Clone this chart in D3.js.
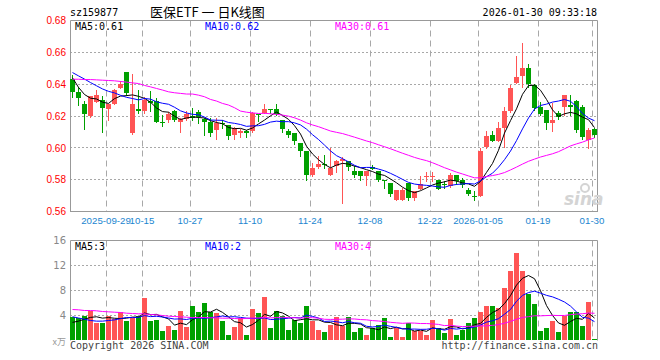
<!DOCTYPE html>
<html>
<head>
<meta charset="utf-8">
<script src="https://cdn.jsdelivr.net/npm/d3@7"></script>
<style>
  body { margin: 0; background: #fff; }
  svg { display: block; }
</style>
</head>
<body>
<svg id="chart"></svg>
<script>
/// data ///
const dates = [
  "2025-09-19","2025-09-22","2025-09-23","2025-09-24","2025-09-25","2025-09-26","2025-09-29","2025-09-30",
  "2025-10-09","2025-10-10","2025-10-13","2025-10-14","2025-10-15","2025-10-16","2025-10-17","2025-10-20",
  "2025-10-21","2025-10-22","2025-10-23","2025-10-24","2025-10-27","2025-10-28","2025-10-29","2025-10-30",
  "2025-10-31","2025-11-03","2025-11-04","2025-11-05","2025-11-06","2025-11-07","2025-11-10","2025-11-11",
  "2025-11-12","2025-11-13","2025-11-14","2025-11-17","2025-11-18","2025-11-19","2025-11-20","2025-11-21",
  "2025-11-24","2025-11-25","2025-11-26","2025-11-27","2025-11-28","2025-12-01","2025-12-02","2025-12-03",
  "2025-12-04","2025-12-05","2025-12-08","2025-12-09","2025-12-10","2025-12-11","2025-12-12","2025-12-15",
  "2025-12-16","2025-12-17","2025-12-18","2025-12-19","2025-12-22","2025-12-23","2025-12-24","2025-12-25",
  "2025-12-26","2025-12-29","2025-12-30","2025-12-31","2026-01-05","2026-01-06","2026-01-07","2026-01-08",
  "2026-01-09","2026-01-12","2026-01-13","2026-01-14","2026-01-15","2026-01-16","2026-01-19","2026-01-20",
  "2026-01-21","2026-01-22","2026-01-23","2026-01-26","2026-01-27","2026-01-28","2026-01-29","2026-01-30"
];

const open = [
  0.6430,0.6352,0.6275,0.6200,0.6290,0.6300,0.6244,0.6275,0.6377,0.6475,0.6092,0.6244,0.6230,0.6294,0.6294,0.6165,
  0.6175,0.6230,0.6165,0.6180,0.6200,0.6227,0.6180,0.6160,0.6113,0.6155,0.6144,0.6080,0.6096,0.6106,0.6108,0.6212,
  0.6217,0.6242,0.6244,0.6175,0.6106,0.6092,0.6029,0.5981,0.5831,0.5879,0.5898,0.5831,0.5883,0.5915,0.5915,0.5852,
  0.5852,0.5825,0.5877,0.5852,0.5800,0.5780,0.5675,0.5675,0.5780,0.5685,0.5742,0.5817,0.5823,0.5796,0.5773,0.5758,
  0.5831,0.5796,0.5733,0.5700,0.5700,0.6008,0.6081,0.6046,0.6123,0.6233,0.6408,0.6450,0.6502,0.6394,0.6258,0.6238,
  0.6158,0.6217,0.6258,0.6267,0.6294,0.6258,0.6050,0.6117
];
const high = [
  0.6456,0.6383,0.6294,0.6327,0.6363,0.6325,0.6275,0.6370,0.6420,0.6475,0.6467,0.6363,0.6320,0.6360,0.6310,0.6206,
  0.6227,0.6240,0.6190,0.6230,0.6248,0.6237,0.6190,0.6185,0.6185,0.6175,0.6144,0.6133,0.6117,0.6112,0.6227,0.6215,
  0.6275,0.6244,0.6275,0.6175,0.6117,0.6092,0.6030,0.5981,0.5904,0.5946,0.5956,0.5998,0.5925,0.5940,0.5915,0.5883,
  0.5855,0.5852,0.5894,0.5852,0.5800,0.5780,0.5733,0.5748,0.5780,0.5727,0.5820,0.5848,0.5848,0.5796,0.5790,0.5842,
  0.5831,0.5810,0.5748,0.5727,0.5998,0.6108,0.6108,0.6165,0.6258,0.6394,0.6577,0.6658,0.6525,0.6404,0.6290,0.6238,
  0.6280,0.6230,0.6331,0.6331,0.6298,0.6269,0.6123,0.6123
];
const low = [
  0.6321,0.6269,0.6119,0.6195,0.6290,0.6102,0.6175,0.6275,0.6377,0.6330,0.6087,0.6220,0.6220,0.6230,0.6160,0.6137,
  0.6165,0.6170,0.6102,0.6175,0.6175,0.6154,0.6080,0.6075,0.6058,0.6123,0.6054,0.6056,0.6071,0.6071,0.6102,0.6170,
  0.6217,0.6217,0.6206,0.6102,0.6071,0.6025,0.5950,0.5796,0.5821,0.5873,0.5873,0.5831,0.5846,0.5654,0.5863,0.5817,
  0.5800,0.5769,0.5867,0.5790,0.5748,0.5696,0.5670,0.5670,0.5670,0.5675,0.5742,0.5790,0.5790,0.5742,0.5748,0.5752,
  0.5775,0.5754,0.5706,0.5670,0.5696,0.6002,0.6040,0.6040,0.6008,0.6227,0.6408,0.6383,0.6383,0.6237,0.6206,0.6117,
  0.6108,0.6180,0.6206,0.6206,0.6102,0.6054,0.6002,0.6071
];
const close = [
  0.6352,0.6315,0.6212,0.6325,0.6331,0.6252,0.6275,0.6363,0.6404,0.6346,0.6275,0.6230,0.6300,0.6283,0.6165,0.6160,
  0.6212,0.6175,0.6180,0.6212,0.6190,0.6196,0.6160,0.6096,0.6154,0.6152,0.6077,0.6123,0.6106,0.6096,0.6221,0.6205,
  0.6244,0.6240,0.6213,0.6117,0.6081,0.6046,0.5977,0.5831,0.5873,0.5900,0.5896,0.5873,0.5915,0.5929,0.5877,0.5831,
  0.5825,0.5852,0.5870,0.5796,0.5790,0.5713,0.5733,0.5733,0.5685,0.5727,0.5775,0.5821,0.5825,0.5744,0.5767,0.5831,
  0.5790,0.5765,0.5713,0.5692,0.5983,0.6075,0.6046,0.6127,0.6233,0.6373,0.6446,0.6502,0.6400,0.6248,0.6213,0.6158,
  0.6175,0.6192,0.6331,0.6258,0.6113,0.6070,0.6113,0.6081
];
// volume, x10k
const volume = [
  3.84,3.57,4.00,4.80,2.77,2.77,4.00,3.47,4.53,3.09,3.63,4.00,6.77,3.20,3.31,1.60,
  2.40,1.76,4.80,2.13,5.60,4.53,5.97,4.53,4.37,3.09,0.96,2.13,3.63,0.96,5.12,4.37,
  6.93,1.97,4.80,4.00,1.76,3.31,2.77,5.60,3.09,1.76,1.44,2.53,3.73,2.40,3.73,1.33,
  1.97,0.80,1.97,2.53,3.57,0.64,1.97,0.53,2.85,1.49,1.49,0.96,3.36,2.03,1.17,3.52,
  0.80,1.76,2.88,3.63,4.64,5.60,5.60,5.28,8.37,11.09,13.97,11.09,7.47,5.81,1.49,2.08,
  3.20,1.44,3.95,4.53,4.64,2.40,6.24,0.16
];

// moving-average values for days whose history lies left of the window
const ma5Lead = [0.6440,0.6380,0.6335,0.6312];
const ma10Lead = [0.6473,0.6452,0.6432,0.6410,0.6390,0.6370,0.6355,0.6345,0.6330];
const ma30Lead = [0.6431,0.6431,0.6429,0.6429,0.6427,0.6425,0.6423,0.6421,0.6417,0.6413,0.6408,0.6404,0.6392,0.6383,
  0.6373,0.6363,0.6352,0.6346,0.6342,0.6338,0.6338,0.6331,0.6321,0.6304,0.6294,0.6279,0.6269,0.6252,0.6231];
const vma5Lead = [2.9,3.1,3.4,3.7];
const vma10Lead = [3.8,3.6,3.4,3.2,3.1,3.1,3.2,3.3,3.5];
const vma30Lead = [4.96,4.91,4.80,4.80,4.75,4.64,4.59,4.53,4.48,4.37,4.32,4.27,4.27,4.16,4.11,4.00,3.89,3.84,3.79,
  3.73,3.68,3.68,3.68,3.63,3.63,3.57,3.57,3.52,3.47];

const priceTicks = [0.56,0.58,0.60,0.62,0.64,0.66,0.68];
const volTicks = [4,8,12,16];
const dateTicks = ["2025-09-29","2025-10-15","2025-10-27","2025-11-10","2025-11-24","2025-12-08","2025-12-22","2026-01-05","2026-01-19","2026-01-30"];
const dateTickLabels = ["2025-09-29","10-15","10-27","11-10","11-24","12-08","12-22","2026-01-05","01-19","01-30"];
const priceLegend = ["MA5:0.61","MA10:0.62","MA30:0.61"];
const volLegend = ["MA5:3","MA10:2","MA30:4"];
const title = "医保ETF 一 日K线图";
const code = "sz159877";
const stamp = "2026-01-30 09:33:18";

/// dimensions ///
const width = 660, height = 360;
const left = 70, right = 598;
const pTop = 20.5, pBot = 211.5;
const vTop = 240.5, vBot = 340.5;

/// colours ///
const up = "#ff5555", down = "#00a000";
const maColors = ["#000000", "#0000ff", "#ff00ff"];
const gridColor = "#a8a8a8";

/// moving averages ///
const movingAvg = (arr, n, lead) => arr.map((v, i) =>
  i < n - 1 ? lead[i] : d3.mean(arr.slice(i - n + 1, i + 1)));
const priceMA = [movingAvg(close, 5, ma5Lead), movingAvg(close, 10, ma10Lead), movingAvg(close, 30, ma30Lead)];
const volMA = [movingAvg(volume, 5, vma5Lead), movingAvg(volume, 10, vma10Lead), movingAvg(volume, 30, vma30Lead)];

/// scales ///
const x = d3.scaleBand().domain(dates).range([left, right]).paddingInner(1 / 6).paddingOuter(1 / 12);
const bx = d => Math.floor(x(d));       // left pixel of a candle
const cx = d => bx(d) + 2.5;            // wick / line position
const y = d3.scaleLinear().domain([0.56, 0.68]).range([pBot, pTop]);
const yv = d3.scaleLinear().domain([0, 16]).range([vBot, vTop]);

const svg = d3.select("#chart")
  .attr("width", width)
  .attr("height", height)
  .style("font-family", "'DejaVu Sans Mono', 'Liberation Mono', monospace");

/// header ///
svg.append("text").attr("x", left).attr("y", 16).attr("font-size", 10).attr("fill", "#000").text(code);
svg.append("text").attr("x", 150).attr("y", 17)
  .attr("font-family", "'Noto Sans CJK SC', sans-serif").attr("font-size", 13).attr("fill", "#000")
  .text(title);
svg.append("text").attr("x", right - 1).attr("y", 16).attr("text-anchor", "end")
  .attr("font-size", 10).attr("fill", "#000").text(stamp);

/// grids ///
const grid = svg.append("g");
grid.selectAll(".hp").data(priceTicks.slice(1, -1)).join("line")
  .attr("x1", left).attr("x2", right)
  .attr("y1", d => Math.floor(y(d)) + 0.5).attr("y2", d => Math.floor(y(d)) + 0.5)
  .attr("stroke", gridColor).attr("stroke-dasharray", "2,2");
grid.selectAll(".hv").data(volTicks.slice(0, -1)).join("line")
  .attr("x1", left).attr("x2", right)
  .attr("y1", d => Math.floor(yv(d)) + 0.5).attr("y2", d => Math.floor(yv(d)) + 0.5)
  .attr("stroke", gridColor).attr("stroke-dasharray", "2,2");
[[pTop, pBot], [vTop, vBot]].forEach(([t, b]) => {
  grid.append("g").selectAll("line").data(dateTicks).join("line")
    .attr("x1", d => bx(d) + 0.5).attr("x2", d => bx(d) + 0.5)
    .attr("y1", t).attr("y2", b)
    .attr("stroke", gridColor).attr("stroke-dasharray", "6,4");
});

/// frames ///
svg.append("path").attr("fill", "none").attr("stroke", "#999")
  .attr("d", `M${left + 0.5},${pBot}V${pTop}H${right - 0.5}V${pBot}M${left},${pBot}H${right}`);
svg.append("path").attr("fill", "none").attr("stroke", "#999")
  .attr("d", `M${left + 0.5},${vBot}V${vTop}H${right - 0.5}V${vBot}`);

/// axes ///
svg.append("g").attr("transform", `translate(${left},0)`)
  .call(d3.axisLeft(y).tickValues(priceTicks).tickFormat(d3.format(".2f")).tickSize(0).tickPadding(4))
  .call(g => g.select(".domain").remove())
  .call(g => g.selectAll("text").attr("fill", "#ff0000").attr("font-size", 10).attr("font-family", null));

svg.append("g").attr("transform", `translate(${left},0)`)
  .call(d3.axisLeft(yv).tickValues(volTicks).tickSize(0).tickPadding(4))
  .call(g => g.select(".domain").remove())
  .call(g => g.selectAll("text").attr("fill", "#888").attr("font-size", 10).attr("font-family", "'DejaVu Sans', sans-serif"));
svg.append("text").attr("x", left - 4).attr("y", 345).attr("text-anchor", "end")
  .attr("font-family", "'Noto Sans CJK SC', sans-serif").attr("font-size", 9).attr("fill", "#999").text("x万");

const dateLabel = d3.scaleOrdinal(dateTicks, dateTickLabels);
svg.append("g").attr("transform", `translate(-3,${pBot})`)
  .call(d3.axisBottom(x).tickValues(dateTicks).tickFormat(dateLabel).tickSize(0).tickPadding(6))
  .call(g => g.select(".domain").remove())
  .call(g => g.selectAll("text").attr("fill", "#1a86d0").attr("font-size", 9.7).attr("font-family", null));

/// candles ///
const candles = svg.append("g").selectAll("g").data(dates).join("g")
  .attr("fill", (d, i) => close[i] >= open[i] ? up : down)
  .attr("stroke", (d, i) => close[i] >= open[i] ? up : down);
candles.append("line")
  .attr("x1", cx).attr("x2", cx)
  .attr("y1", (d, i) => Math.round(y(high[i]))).attr("y2", (d, i) => Math.round(y(low[i])) + 1);
candles.append("rect").attr("stroke", "none")
  .attr("x", bx).attr("width", 5)
  .attr("y", (d, i) => Math.round(y(Math.max(open[i], close[i]))))
  .attr("height", (d, i) => Math.max(1, Math.round(y(Math.min(open[i], close[i]))) - Math.round(y(Math.max(open[i], close[i])))));

/// volume bars ///
svg.append("g").selectAll("rect").data(dates).join("rect")
  .attr("fill", (d, i) => close[i] >= open[i] ? up : down)
  .attr("x", bx).attr("width", 5)
  .attr("y", (d, i) => Math.round(yv(volume[i])))
  .attr("height", (d, i) => Math.max(1, Math.round(vBot - 0.5) - Math.round(yv(volume[i]))));

/// moving average lines ///
const lineP = d3.line().x((v, i) => cx(dates[i])).y(v => y(v));
const lineV = d3.line().x((v, i) => cx(dates[i])).y(v => yv(v));
svg.append("g").attr("fill", "none").selectAll("path").data(priceMA).join("path")
  .attr("stroke", (d, k) => maColors[k]).attr("stroke-width", 1).attr("d", lineP);
svg.append("g").attr("fill", "none").selectAll("path").data(volMA).join("path")
  .attr("stroke", (d, k) => maColors[k]).attr("stroke-width", 1).attr("d", lineV);

/// legends ///
const legendX = [75, 205, 335];
svg.append("g").selectAll("text").data(priceLegend).join("text")
  .attr("x", (d, k) => legendX[k]).attr("y", 30).attr("font-size", 10)
  .attr("fill", (d, k) => maColors[k]).text(d => d);
svg.append("g").selectAll("text").data(volLegend).join("text")
  .attr("x", (d, k) => legendX[k]).attr("y", 250).attr("font-size", 10)
  .attr("fill", (d, k) => maColors[k]).text(d => d);

/// watermark ///
const wm = svg.append("g").attr("fill", "#d4d4d4");
wm.append("text").attr("x", 564).attr("y", 205).attr("font-family", "'DejaVu Sans', sans-serif")
  .attr("font-size", 17).attr("font-weight", "bold").attr("font-style", "italic").text("sina");
wm.append("circle").attr("cx", 585).attr("cy", 188).attr("r", 4).attr("fill", "none").attr("stroke", "#d4d4d4").attr("stroke-width", 2);

/// footer ///
svg.append("text").attr("x", left).attr("y", 349).attr("font-size", 10).attr("fill", "#444").text("Copyright 2026 SINA.COM");
svg.append("text").attr("x", right).attr("y", 349).attr("text-anchor", "end").attr("font-size", 10).attr("fill", "#444")
  .text("http://finance.sina.com.cn");
</script>
</body>
</html>
